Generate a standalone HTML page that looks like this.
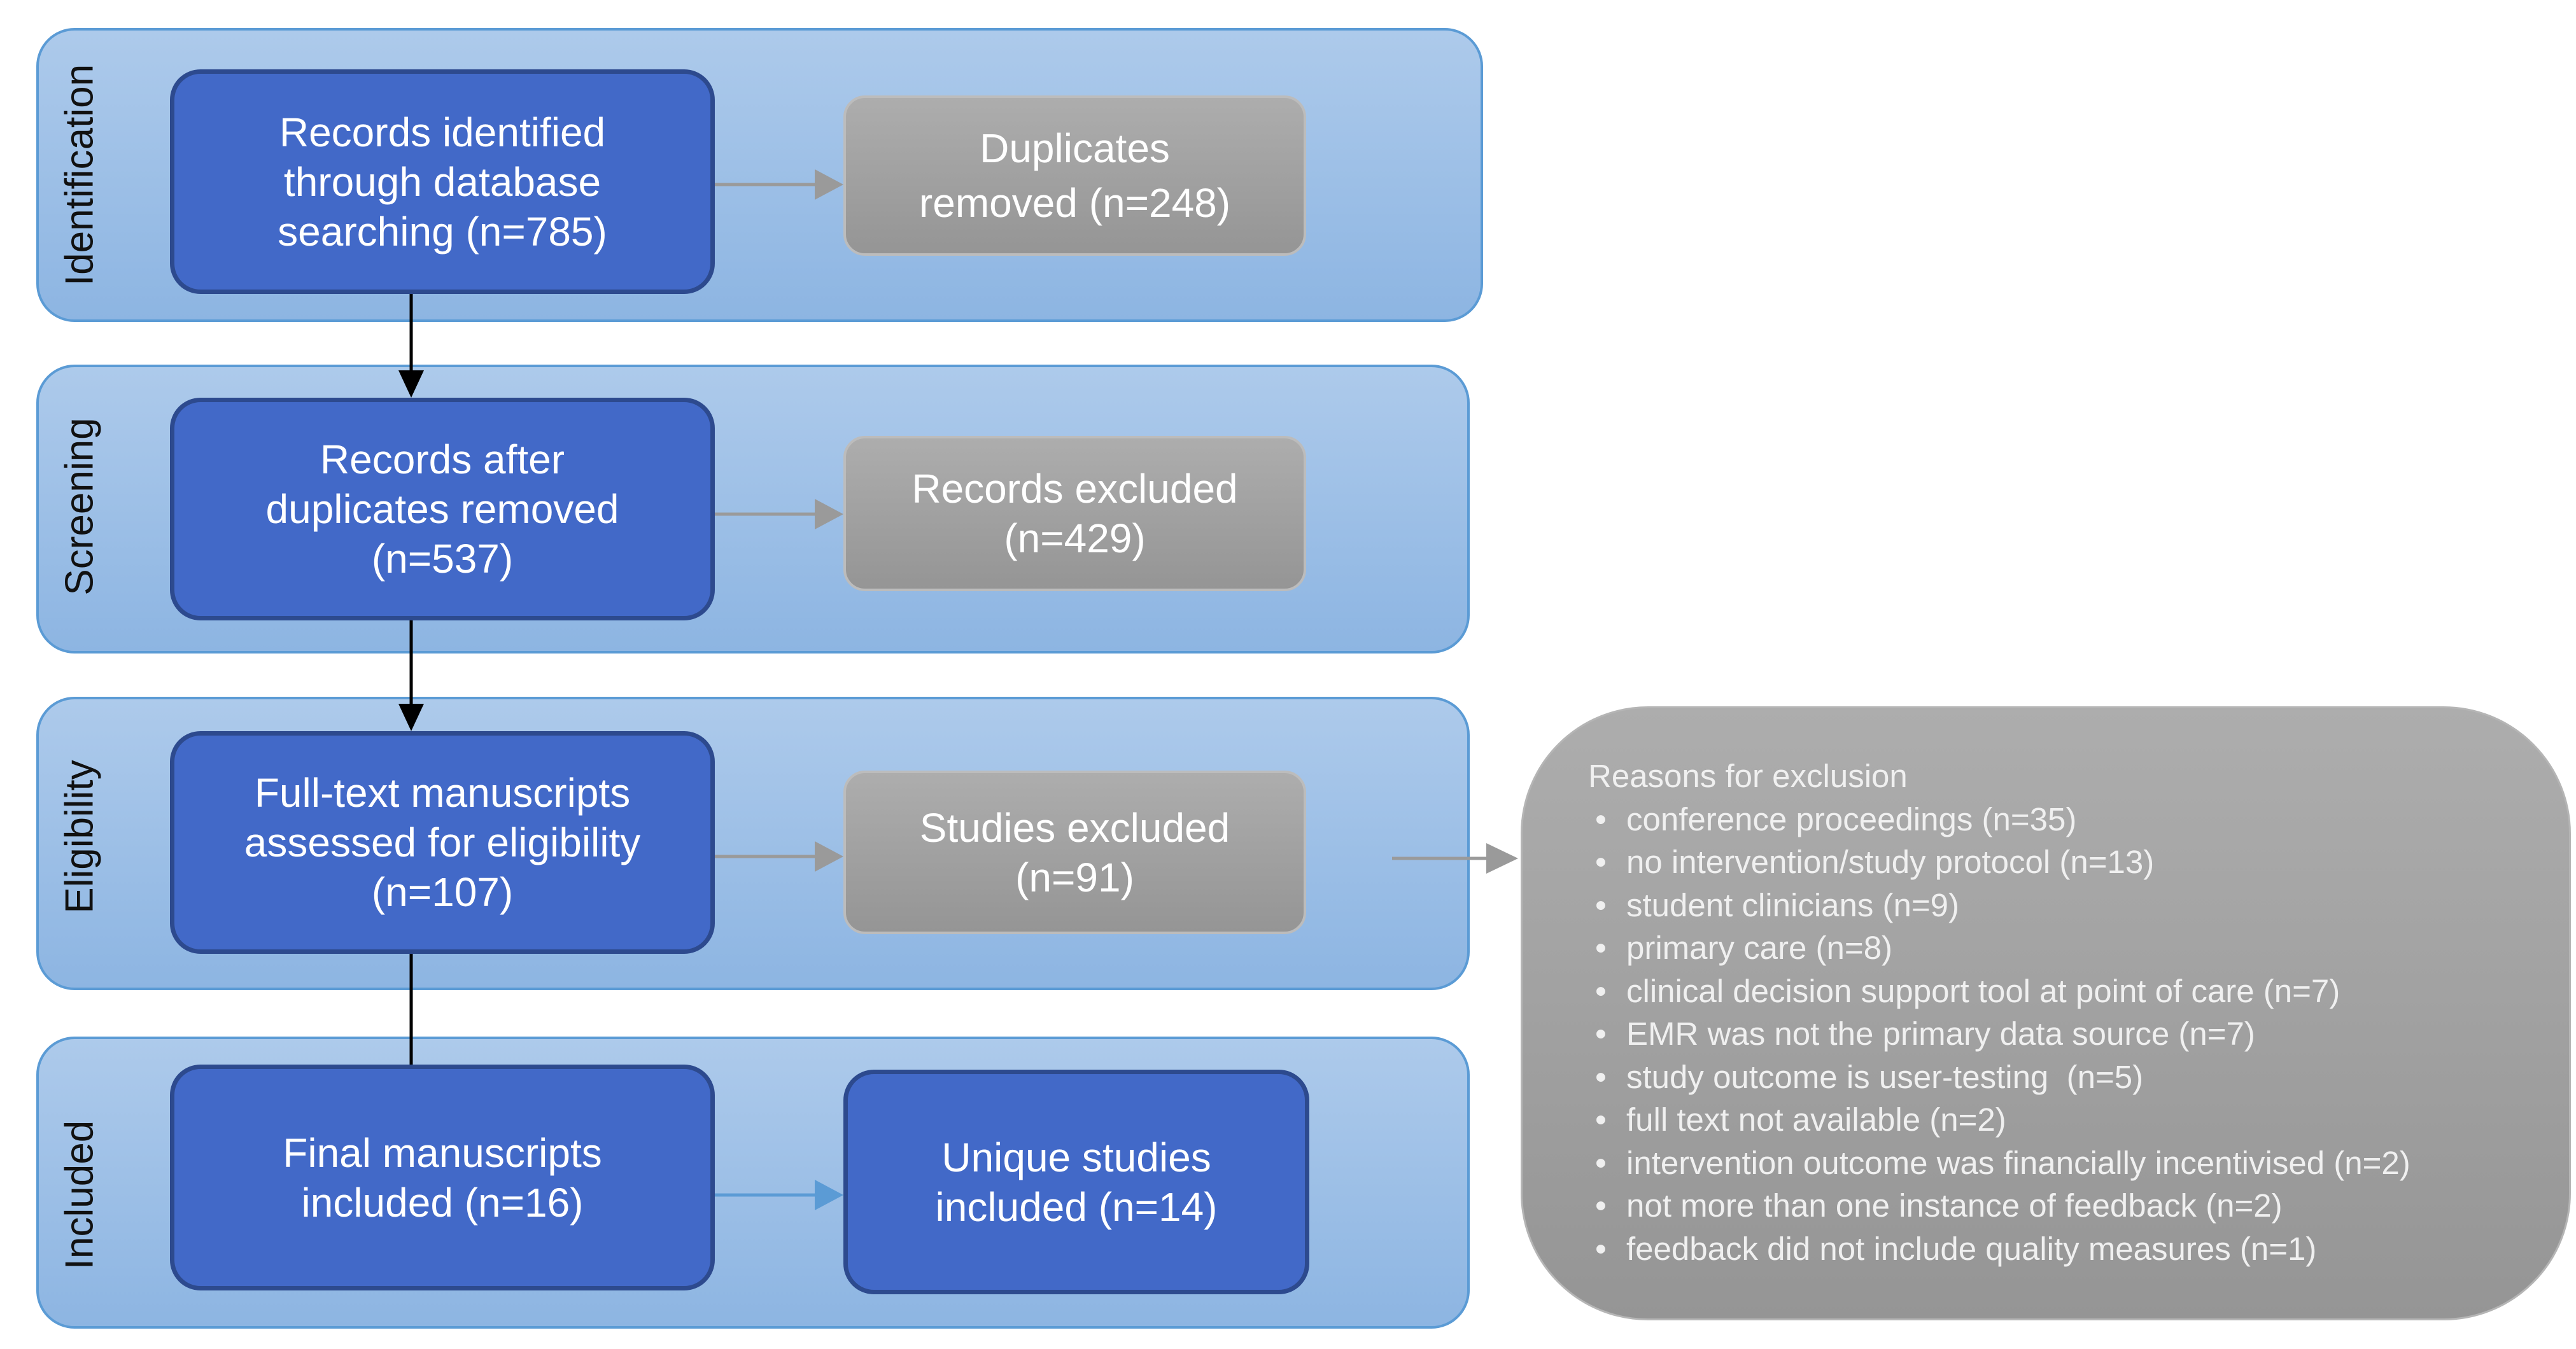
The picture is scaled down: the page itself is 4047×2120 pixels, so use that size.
<!DOCTYPE html>
<html><head><meta charset="utf-8"><style>
body{margin:0;width:4047px;height:2120px;background:#fff;position:relative;overflow:hidden;font-family:"Liberation Sans",sans-serif}
.p{position:absolute;left:57px;border:4px solid #5b9bd5;border-radius:60px;background:linear-gradient(#adcaeb,#8db5e2);box-sizing:border-box}
.lab{position:absolute;left:125px;transform:translate(-50%,-50%) rotate(-90deg);font-size:62px;color:#111;white-space:nowrap}
.b{position:absolute;box-sizing:border-box;display:flex;align-items:center;justify-content:center;text-align:center;color:#fff;font-size:64px;line-height:78px}
.bl{background:#4269c8;border:7px solid #2d4a8e;border-radius:48px}
.g{background:linear-gradient(#adadad,#959595);border:4px solid #bcbcbc;border-radius:34px}
svg{position:absolute;left:0;top:0}
.li{position:relative;padding-left:60px}
.li:before{content:"•";position:absolute;left:11px}
</style></head><body>
<div class="p" style="top:44px;width:2273px;height:462px"></div>
<div class="p" style="top:573px;width:2252px;height:454px"></div>
<div class="p" style="top:1095px;width:2252px;height:461px"></div>
<div class="p" style="top:1629px;width:2252px;height:459px"></div>
<div class="lab" style="top:275px">Identification</div>
<div class="lab" style="top:796px">Screening</div>
<div class="lab" style="top:1315px">Eligibility</div>
<div class="lab" style="top:1878px">Included</div>

<div class="b bl" style="left:267px;top:109px;width:856px;height:353px">Records identified<br>through database<br>searching (n=785)</div>
<div class="b bl" style="left:267px;top:625px;width:856px;height:350px">Records after<br>duplicates removed<br>(n=537)</div>
<div class="b bl" style="left:267px;top:1149px;width:856px;height:350px">Full-text manuscripts<br>assessed for eligibility<br>(n=107)</div>
<div class="b bl" style="left:267px;top:1673px;width:856px;height:355px">Final manuscripts<br>included (n=16)</div>
<div class="b bl" style="left:1325px;top:1681px;width:732px;height:353px">Unique studies<br>included (n=14)</div>
<div class="b g" style="left:1325px;top:150px;width:727px;height:252px;line-height:86px">Duplicates<br>removed (n=248)</div>
<div class="b g" style="left:1325px;top:685px;width:727px;height:244px">Records excluded<br>(n=429)</div>
<div class="b g" style="left:1325px;top:1211px;width:727px;height:257px">Studies excluded<br>(n=91)</div>

<div style="position:absolute;left:2389px;top:1110px;width:1650px;height:965px;border-radius:200px;background:linear-gradient(#adadad,#959595);border:3px solid #b5b5b5;box-sizing:border-box"></div>
<div style="position:absolute;left:2495px;top:1186px;color:#f0f0f0;font-size:51px;line-height:67.5px;white-space:nowrap">
<div>Reasons for exclusion</div>
<div class="li">conference proceedings (n=35)</div>
<div class="li">no intervention/study protocol (n=13)</div>
<div class="li">student clinicians (n=9)</div>
<div class="li">primary care (n=8)</div>
<div class="li">clinical decision support tool at point of care (n=7)</div>
<div class="li">EMR was not the primary data source (n=7)</div>
<div class="li">study outcome is user-testing &nbsp;(n=5)</div>
<div class="li">full text not available (n=2)</div>
<div class="li">intervention outcome was financially incentivised (n=2)</div>
<div class="li">not more than one instance of feedback (n=2)</div>
<div class="li">feedback did not include quality measures (n=1)</div>
</div>
<svg width="4047" height="2120">
<g stroke="#000" stroke-width="5" fill="none">
<line x1="646" y1="462" x2="646" y2="590"/>
<line x1="646" y1="975" x2="646" y2="1115"/>
<line x1="646" y1="1499" x2="646" y2="1673"/>
</g>
<polygon points="626,582 666,582 646,625" fill="#000"/>
<polygon points="626,1106 666,1106 646,1149" fill="#000"/>
<g stroke="#9a9a9a" stroke-width="5">
<line x1="1123" y1="290" x2="1290" y2="290"/>
<line x1="1123" y1="808" x2="1290" y2="808"/>
<line x1="1123" y1="1346" x2="1290" y2="1346"/>
<line x1="2187" y1="1349" x2="2345" y2="1349"/>
</g>
<g fill="#9a9a9a">
<polygon points="1280,266 1325,290 1280,314"/>
<polygon points="1280,784 1325,808 1280,832"/>
<polygon points="1280,1322 1325,1346 1280,1370"/>
<polygon points="2335,1325 2385,1349 2335,1373"/>
</g>
<line x1="1123" y1="1878" x2="1290" y2="1878" stroke="#5b9bd5" stroke-width="5"/>
<polygon points="1280,1854 1325,1878 1280,1902" fill="#5b9bd5"/>
</svg>
</body></html>
